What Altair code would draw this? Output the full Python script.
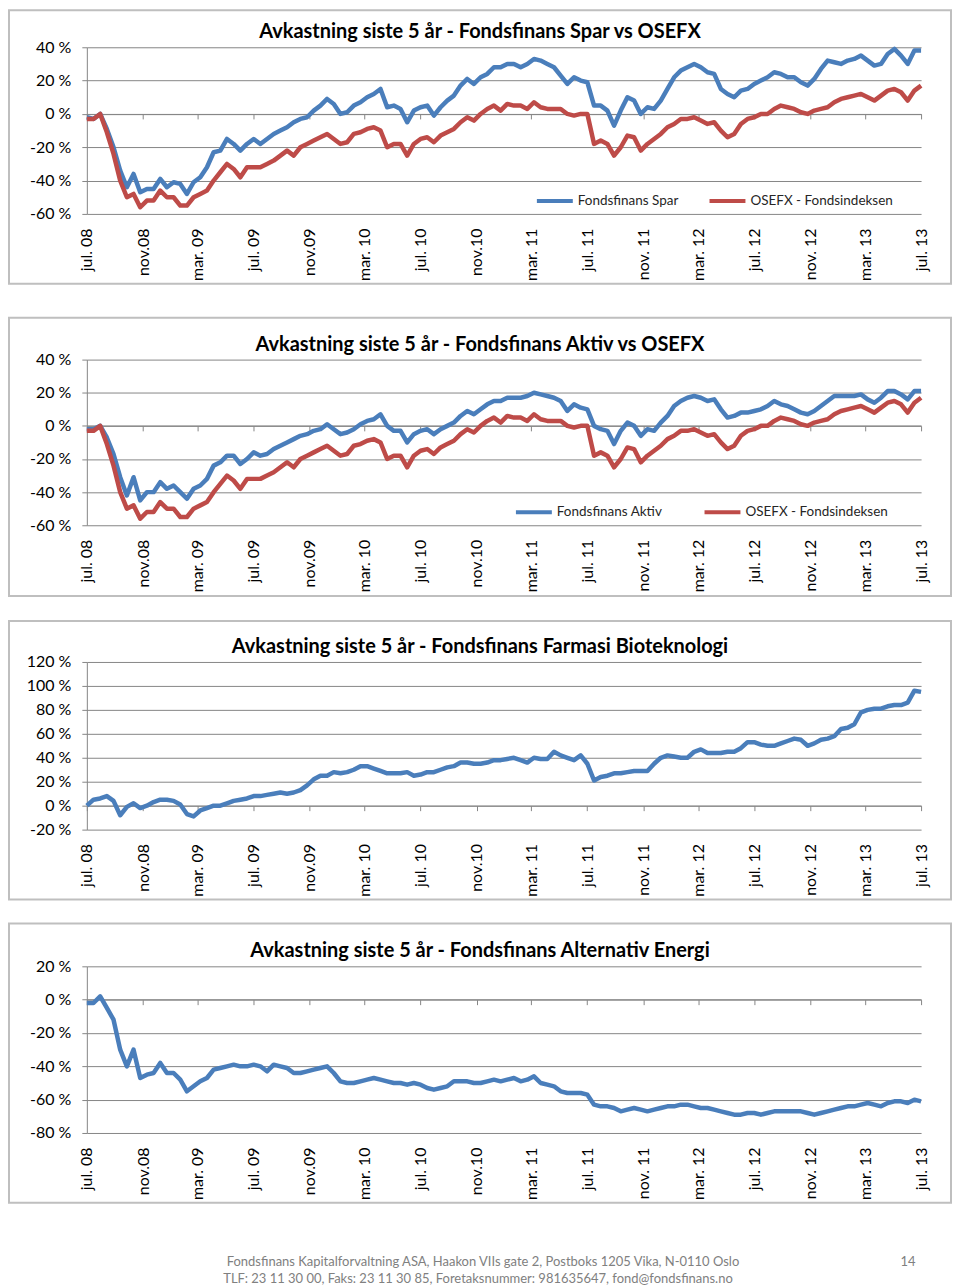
import json
import altair as alt
import pandas as pd

# ---------------- data (half-monthly samples) ----------------
dates = pd.date_range("2008-07-01", "2013-07-01", periods=126)

spar = [-2, -3, 0, -9, -20, -34, -44, -36, -47, -45,
        -45, -39, -44, -41, -42, -48, -41, -38, -32, -23,
        -22, -15, -18, -22, -18, -15, -18, -15, -12, -10,
        -8, -5, -3, -2, 2, 5, 9, 6, 0, 1,
        5, 7, 10, 12, 15, 4, 5, 3, -5, 2,
        4, 5, -1, 4, 8, 11, 17, 21, 18, 22,
        24, 28, 28, 30, 30, 28, 30, 33, 32, 30,
        28, 23, 18, 22, 20, 19, 5, 5, 2, -7,
        2, 10, 8, 0, 4, 3, 8, 15, 22, 26,
        28, 30, 28, 25, 24, 15, 12, 10, 14, 15,
        18, 20, 22, 25, 24, 22, 22, 19, 17, 21,
        27, 32, 31, 30, 32, 33, 35, 32, 29, 30,
        36, 39, 35, 30, 38, 38]

osefx = [-3, -3, 0, -11, -24, -40, -50, -48, -56, -52,
         -52, -46, -50, -50, -55, -55, -50, -48, -46, -40,
         -35, -30, -33, -38, -32, -32, -32, -30, -28, -25,
         -22, -25, -20, -18, -16, -14, -12, -15, -18, -17,
         -12, -11, -9, -8, -10, -20, -18, -18, -25, -18,
         -15, -14, -17, -13, -11, -9, -5, -2, -4, 0,
         3, 5, 2, 6, 5, 5, 3, 7, 4, 3,
         3, 3, 0, -1, 0, 0, -18, -16, -18, -25,
         -20, -13, -14, -22, -18, -15, -12, -8, -6, -3,
         -3, -2, -4, -6, -5, -10, -14, -12, -6, -3,
         -2, 0, 0, 3, 5, 4, 3, 1, 0, 2,
         3, 4, 7, 9, 10, 11, 12, 10, 8, 11,
         14, 15, 13, 8, 14, 17]

aktiv = [-2, -2, 0, -7, -17, -31, -42, -31, -45, -40,
         -40, -34, -38, -36, -40, -44, -38, -36, -32, -24,
         -22, -18, -18, -23, -20, -16, -18, -17, -14, -12,
         -10, -8, -6, -5, -3, -2, 1, -2, -5, -4,
         -2, 1, 3, 4, 7, 0, -3, -3, -10, -5,
         -3, -2, -5, -2, 0, 2, 6, 9, 7, 10,
         13, 15, 15, 17, 17, 17, 18, 20, 19, 18,
         17, 15, 9, 13, 11, 10, 0, -2, -3, -11,
         -3, 2, 0, -6, -2, -3, 2, 6, 12, 15,
         17, 18, 17, 15, 16, 10, 5, 6, 8, 8,
         9, 10, 12, 15, 13, 12, 10, 8, 7, 9,
         12, 15, 18, 18, 18, 18, 19, 16, 14, 17,
         21, 21, 19, 16, 21, 21]

farmasi = [0, 5, 6, 8, 4, -8, -1, 2, -2, 0,
           3, 5, 5, 4, 1, -7, -9, -4, -2, 0,
           0, 2, 4, 5, 6, 8, 8, 9, 10, 11,
           10, 11, 13, 17, 22, 25, 25, 28, 27, 28,
           30, 33, 33, 31, 29, 27, 27, 27, 28, 25,
           26, 28, 28, 30, 32, 33, 36, 36, 35, 35,
           36, 38, 38, 39, 40, 38, 36, 40, 39, 39,
           45, 42, 40, 38, 42, 35, 21, 24, 25, 27,
           27, 28, 29, 29, 29, 35, 40, 42, 41, 40,
           40, 45, 47, 44, 44, 44, 45, 45, 48, 53,
           53, 51, 50, 50, 52, 54, 56, 55, 50, 52,
           55, 56, 58, 64, 65, 68, 78, 80, 81, 81,
           83, 84, 84, 86, 96, 95]

altenergi = [-2, -2, 2, -5, -12, -30, -40, -30, -47, -45,
             -44, -38, -44, -44, -48, -55, -52, -49, -47, -42,
             -41, -40, -39, -40, -40, -39, -40, -43, -39, -40,
             -41, -44, -44, -43, -42, -41, -40, -44, -49, -50,
             -50, -49, -48, -47, -48, -49, -50, -50, -51, -50,
             -51, -53, -54, -53, -52, -49, -49, -49, -50, -50,
             -49, -48, -49, -48, -47, -49, -48, -46, -50, -51,
             -52, -55, -56, -56, -56, -57, -63, -64, -64, -65,
             -67, -66, -65, -66, -67, -66, -65, -64, -64, -63,
             -63, -64, -65, -65, -66, -67, -68, -69, -69, -68,
             -68, -69, -68, -67, -67, -67, -67, -67, -68, -69,
             -68, -67, -66, -65, -64, -64, -63, -62, -63, -64,
             -62, -61, -61, -62, -60, -61]

tick_months = ["2008-07", "2008-11", "2009-03", "2009-07", "2009-11", "2010-03",
               "2010-07", "2010-11", "2011-03", "2011-07", "2011-11", "2012-03",
               "2012-07", "2012-11", "2013-03", "2013-07"]
tick_labels = ["jul. 08", "nov.08", "mar. 09", "jul. 09", "nov.09", "mar. 10",
               "jul. 10", "nov.10", "mar. 11", "jul. 11", "nov. 11", "mar. 12",
               "jul. 12", "nov. 12", "mar. 13", "jul. 13"]

titles = ["Avkastning siste 5 år - Fondsfinans Spar vs OSEFX",
          "Avkastning siste 5 år - Fondsfinans Aktiv vs OSEFX",
          "Avkastning siste 5 år - Fondsfinans Farmasi Bioteknologi",
          "Avkastning siste 5 år - Fondsfinans Alternativ Energi"]
series_spar = "Fondsfinans Spar"
series_aktiv = "Fondsfinans Aktiv"
series_osefx = "OSEFX - Fondsindeksen"
footer_1 = "Fondsfinans Kapitalforvaltning ASA, Haakon VIIs gate 2, Postboks 1205 Vika, N-0110 Oslo"
footer_2 = "TLF: 23 11 30 00, Faks: 23 11 30 85, Foretaksnummer: 981635647, fond@fondsfinans.no"
page_no = "14"

# ---------------- styling ----------------
FONT = "Lato"
BLUE = "#4A7EBB"
RED = "#BE4B48"
GRID = "#868686"
FRAME = "#BFBFBF"
W = 836


def dt(s):
    y, m = s.split("-")
    return alt.DateTime(year=int(y), month=int(m), date=1)


tick_values = [dt(s) for s in tick_months]
label_expr = (json.dumps(tick_labels)
              + "[round(((year(datum.value)-2008)*12 + month(datum.value) - 6)/4)]")


def long_df(named):
    rows = []
    for name, vals in named:
        for d, v in zip(dates, vals):
            rows.append({"date": d, "value": v, "series": name})
    return pd.DataFrame(rows)


one = pd.DataFrame({"k": [0]})


def panel(named, title, ymin, ymax, h, frame_top, frame_bottom, ext_bottom,
          legend_x=None, legend_gap=23, extra=None):
    zero_from_bottom = h * (0 - ymin) / (ymax - ymin)
    x = alt.X(
        "date:T",
        scale=alt.Scale(domain=[dt("2008-07"), dt("2013-07")]),
        axis=alt.Axis(values=tick_values, labelExpr=label_expr, labelAngle=270,
                      offset=-zero_from_bottom,
                      labelPadding=zero_from_bottom + 14 - 5,
                      tickSize=5, tickColor=GRID, domainColor=GRID, grid=False,
                      labelFont=FONT, labelFontSize=16, labelColor="#000000",
                      labelFlush=False, labelOverlap=False, title=None),
    )
    y = alt.Y(
        "value:Q",
        scale=alt.Scale(domain=[ymin, ymax], nice=False, zero=False),
        axis=alt.Axis(values=list(range(ymin, ymax + 1, 20)),
                      labelExpr="datum.value + ' %'",
                      tickSize=5, tickColor=GRID, domainColor=GRID,
                      grid=True, gridColor=GRID, labelPadding=11,
                      labelFont=FONT, labelFontSize=16, labelColor="#000000",
                      title=None),
    )
    df = long_df(named)
    if legend_x is not None:
        color = alt.Color(
            "series:N",
            scale=alt.Scale(domain=[n for n, _ in named], range=[BLUE, RED]),
            legend=alt.Legend(orient="none", legendX=legend_x, legendY=h - 33,
                              direction="horizontal", title=None,
                              symbolType="stroke", symbolStrokeWidth=4,
                              symbolSize=1296, labelFont=FONT, labelFontSize=13.5,
                              labelColor="#262626", columnPadding=legend_gap,
                              labelOffset=3),
        )
        lines = alt.Chart(df).mark_line(strokeWidth=4.5, strokeJoin="round").encode(
            x=x, y=y, color=color)
    else:
        lines = alt.Chart(df).mark_line(strokeWidth=4.5, strokeJoin="round",
                                        color=BLUE).encode(x=x, y=y)

    frame = alt.Chart(one).mark_rect(fill=None, stroke=FRAME, strokeWidth=2).encode(
        x=alt.value(-78), x2=alt.value(866),
        y=alt.value(frame_top), y2=alt.value(frame_bottom))
    spacer = alt.Chart(one).mark_rect(opacity=0).encode(
        x=alt.value(0), x2=alt.value(1),
        y=alt.value(frame_bottom), y2=alt.value(ext_bottom))
    ttl = alt.Chart(one).mark_text(
        font=FONT, fontSize=20, fontWeight="bold", color="#000000",
        align="center", baseline="alphabetic", text=title
    ).encode(x=alt.value(394), y=alt.value(-9))
    layers = [frame, spacer, lines, ttl]
    if extra:
        layers += extra
    return alt.layer(*layers).properties(width=W, height=h)


footer_layers = [
    alt.Chart(one).mark_text(font=FONT, fontSize=13, color="#808080",
                             align="center", baseline="middle", text=footer_1
                             ).encode(x=alt.value(397), y=alt.value(296)),
    alt.Chart(one).mark_text(font=FONT, fontSize=13, color="#808080",
                             align="center", baseline="middle", text=footer_2
                             ).encode(x=alt.value(392), y=alt.value(313)),
    alt.Chart(one).mark_text(font=FONT, fontSize=13, color="#808080",
                             align="center", baseline="middle", text=page_no
                             ).encode(x=alt.value(823), y=alt.value(296)),
]

p1 = panel([(series_spar, spar), (series_osefx, osefx)], titles[0], -60, 40, 167,
           -37, 237, 270, legend_x=449, legend_gap=23)
p2 = panel([(series_aktiv, aktiv), (series_osefx, osefx)], titles[1], -60, 40, 166,
           -42, 237, 261, legend_x=428, legend_gap=34)
p3 = panel([("Farmasi", farmasi)], titles[2], -20, 120, 168, -41, 238, 261)
p4 = panel([("Alternativ Energi", altenergi)], titles[3], -80, 20, 167, -43, 237, 237,
           extra=footer_layers)

chart = alt.vconcat(p1, p2, p3, p4, spacing=0).resolve_scale(
    color="independent").properties(padding=0).configure_view(stroke=None)

chart.save("out.html", embed_options={"renderer": "svg", "actions": False})
